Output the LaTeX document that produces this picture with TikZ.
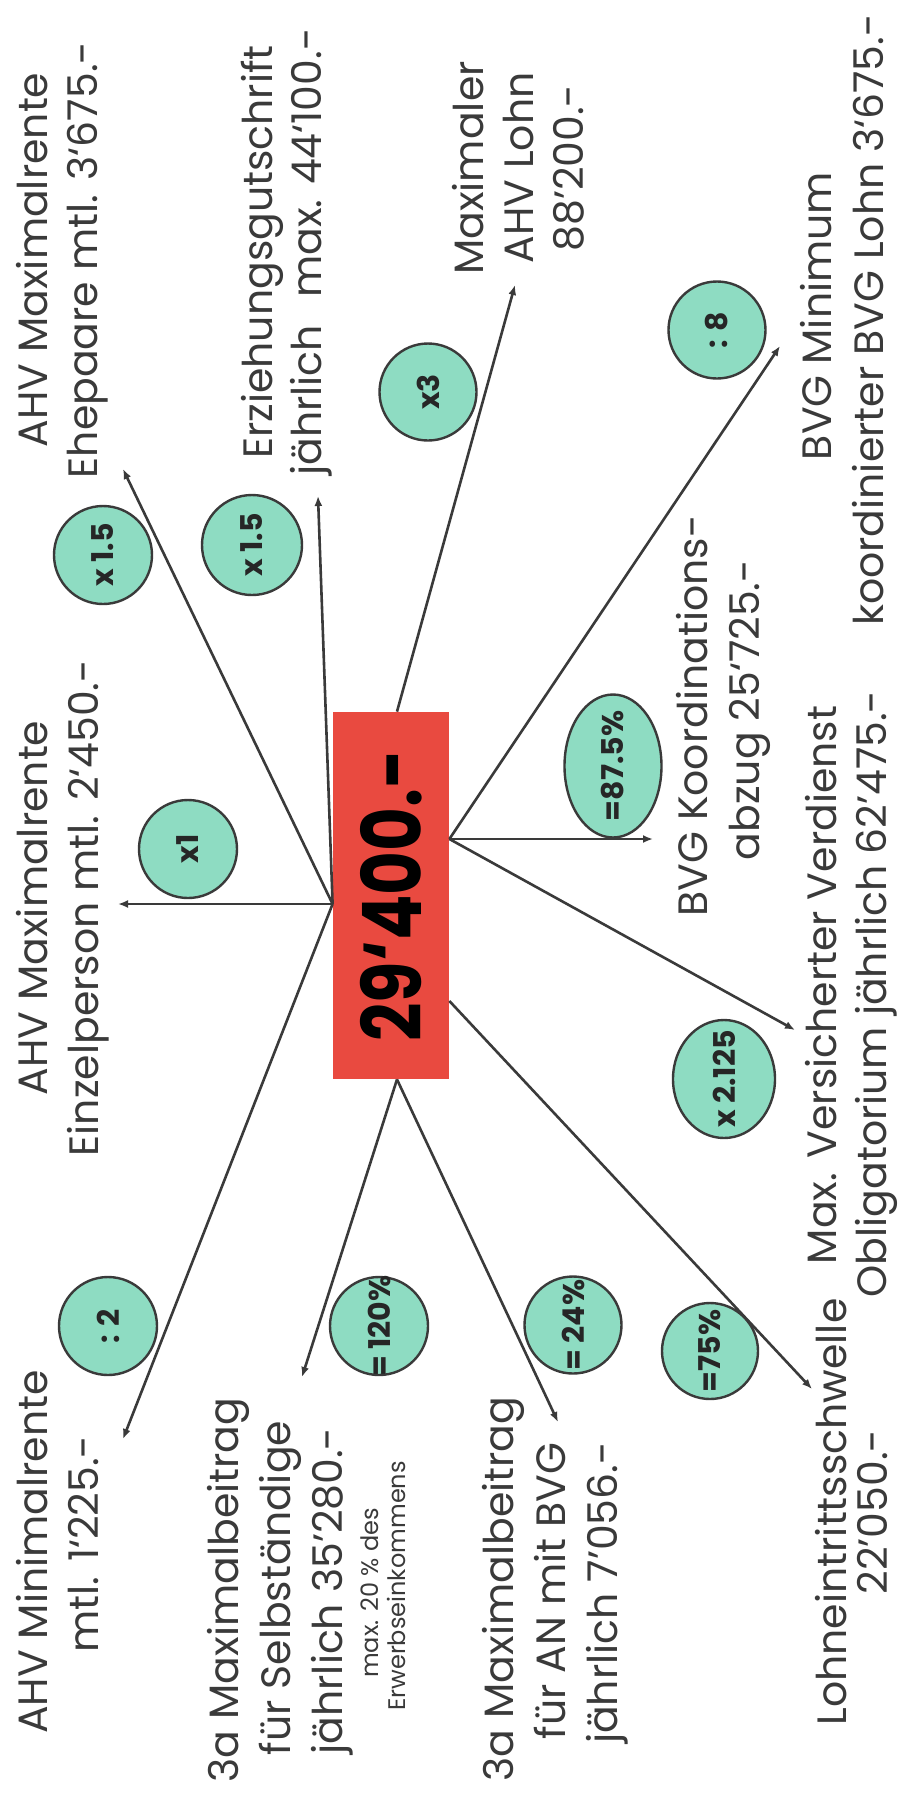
\documentclass[tikz,border=0pt]{standalone}
\usepackage{fontspec}
\setmainfont{Poppins}
\usetikzlibrary{arrows.meta,shapes.geometric}
\definecolor{mint}{RGB}{142,220,194}
\definecolor{redbox}{RGB}{233,74,64}
\definecolor{ink}{RGB}{58,58,58}
\begin{document}
\begin{tikzpicture}[x=0.5pt,y=-0.5pt,
  lbl/.style={rotate=90,anchor=base,inner sep=0pt,text=ink,font=\fontsize{20.5}{25}\selectfont},
  small/.style={lbl,font=\fontsize{12}{14}\selectfont},
  op/.style={ellipse,draw=ink,line width=1.2pt,fill=mint,inner sep=0pt},
  optxt/.style={rotate=90,inner sep=0pt,text=black!85,font=\bfseries\fontsize{15}{17}\selectfont},
  link/.style={draw=ink,line width=1.3pt,-{Latex[length=5pt,width=4pt]}}]
\useasboundingbox (0,0) rectangle (902,1806);
\fill[white] (0,0) rectangle (902,1806);

% central value
\node[fill=redbox,minimum width=58pt,minimum height=183.5pt,inner sep=0pt] (r) at (391,895.5)
  {\rotatebox{90}{\scalebox{0.82}[1]{\bfseries\fontsize{41}{41}\selectfont 29‘400.-}}};

% operator circles
\node[op,minimum size=49pt,label={[optxt]center:x1}] (cx1) at (188,849) {};
\node[op,minimum size=49pt,label={[optxt]center:x 1.5}] (cehe) at (103,555) {};
\node[op,minimum size=50pt,label={[optxt]center:x 1.5}] (cerz) at (252,545) {};
\node[op,minimum size=48.5pt,label={[optxt]center:x3}] (cx3) at (428,392) {};
\node[op,minimum size=48.5pt,label={[optxt]center:: 8}] (c8) at (717,330) {};
\node[op,minimum width=48.5pt,minimum height=71.5pt,label={[optxt]center:=87.5\%}] (c875) at (613,766) {};
\node[op,minimum width=51pt,minimum height=59pt,label={[optxt]center:x 2.125}] (c2125) at (724,1079) {};
\node[op,minimum size=49pt,label={[optxt]center:: 2}] (c2) at (108,1326) {};
\node[op,minimum size=49pt,label={[optxt]center:= 120\%}] (c120) at (379,1326) {};
\node[op,minimum size=48.5pt,label={[optxt]center:= 24\%}] (c24) at (573,1325) {};
\node[op,minimum size=48pt,label={[optxt]center:=75\%}] (c75) at (710,1351) {};

% labels
\node[lbl] (e1) at (47,260) {AHV Maximalrente};
\node[lbl] (e2) at (97,260) {Ehepaare mtl. 3‘675.-};
\node[lbl] (z1) at (272,252) {Erziehungsgutschrift};
\node[lbl] (z2) at (321,252) {jährlich\hspace{0.4em} max. 44‘100.-};
\node[lbl] (m1) at (483,168) {Maximaler};
\node[lbl] (m2) at (533,168) {AHV Lohn};
\node[lbl] (m3) at (583,168) {88’200.-};
\node[lbl] (b1) at (831,316) {BVG Minimum};
\node[lbl] (b2) at (883,320) {koordinierter BVG Lohn 3‘675.-};
\node[lbl] (k1) at (707,716) {BVG Koordinations-};
\node[lbl] (k2) at (759,710) {abzug 25‘725.-};
\node[lbl] (v1) at (836,985) {Max. Versicherter Verdienst};
\node[lbl] (v2) at (886,994) {Obligatorium jährlich 62’475.-};
\node[lbl] (l1) at (846,1512) {Lohneintrittsschwelle};
\node[lbl] (l2) at (887,1512) {22’050.-};
\node[lbl] (a1) at (513,1589) {3a Maximalbeitrag};
\node[lbl] (a2) at (565,1591) {für AN mit BVG};
\node[lbl] (a3) at (617,1593) {jährlich 7’056.-};
\node[lbl] (s1) at (238,1590) {3a Maximalbeitrag};
\node[lbl] (s2) at (290,1588) {für Selbständige};
\node[lbl] (s3) at (342,1591) {jährlich 35’280.-};
\node[small] (s4) at (378,1593) {max. 20 \% des};
\node[small] (s5) at (405,1586) {Erwerbseinkommens};
\node[lbl] (n1) at (47,1552) {AHV Minimalrente};
\node[lbl] (n2) at (98,1544) {mtl. 1‘225.-};
\node[lbl] (x1) at (47,908) {AHV Maximalrente};
\node[lbl] (x2) at (98,908) {Einzelperson mtl. 2‘450.-};

% arrow targets
\coordinate (tEhe) at (123,469);
\coordinate (tErz) at (318,496);
\coordinate (tEin) at (118,904);
\coordinate (tMin) at (123,1439);
\coordinate (tMax) at (515,285);
\coordinate (tBmin) at (780,346);
\coordinate (tKoord) at (653,839);
\coordinate (tVers) at (795,1030);
\coordinate (tLohn) at (812,1389);
\coordinate (tSelb) at (302,1377);
\coordinate (tAN) at (558,1422);

% connectors
\draw[link] ([yshift=-4.25pt]r.west) -- (tEhe);
\draw[link] ([yshift=-4.25pt]r.west) -- (tErz);
\draw[link] ([yshift=-4.25pt]r.west) -- (tEin);
\draw[link] ([yshift=-4.25pt]r.west) -- (tMin);
\draw[link] ([xshift=3pt]r.north) -- (tMax);
\draw[link] ([yshift=28.25pt]r.east) -- (tBmin);
\draw[link] ([yshift=28.25pt]r.east) -- (tKoord);
\draw[link] ([yshift=28.25pt]r.east) -- (tVers);
\draw[link] ([yshift=-52.75pt]r.east) -- (tLohn);
\draw[link] ([xshift=3pt]r.south) -- (tSelb);
\draw[link] ([xshift=3pt]r.south) -- (tAN);
\end{tikzpicture}
\end{document}
